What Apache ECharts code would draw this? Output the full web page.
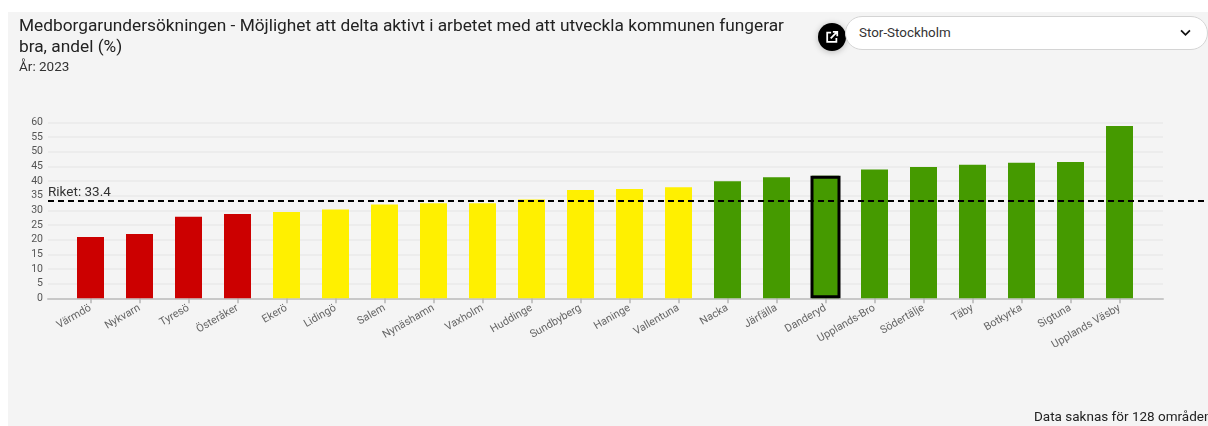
<!DOCTYPE html>
<html>
<head>
<meta charset="utf-8">
<title>Medborgarundersökningen</title>
<script src="https://cdn.jsdelivr.net/npm/echarts@6/dist/echarts.min.js"></script>
<style>
  html, body { margin: 0; padding: 0; background: #fff; overflow: hidden; }
  .panel { position: absolute; left: 8px; top: 12px; width: 1200px; height: 414px; background: #f4f4f4; }
  #chart { position: absolute; left: 0; top: 0; width: 1208px; height: 426px; }
  .share {
    position: absolute; left: 818px; top: 23px; width: 28px; height: 28px; border-radius: 50%;
    background: #000; box-shadow: 0 1px 6px rgba(0, 0, 0, 0.25);
  }
  .share svg { position: absolute; left: 7px; top: 7px; }
  .select {
    position: absolute; left: 845px; top: 16px; width: 363px; height: 34px; box-sizing: border-box;
    background: #fff; border: 1px solid #d4d4d4; border-radius: 17px;
    font: 13.4px/31px Roboto, sans-serif; color: #333; padding-left: 13px;
  }
  .select svg { position: absolute; right: 16px; top: 12px; }
</style>
</head>
<body>
<div class="panel"></div>
<div id="chart"></div>
<div class="share">
  <svg width="14" height="14" viewBox="0 0 16 16" fill="none" stroke="#fff" stroke-width="2">
    <path d="M7 3H2.5v10.5H13V9"/>
    <path d="M6.5 9.5 13.5 2.5M9 2h5v5"/>
  </svg>
</div>
<div class="select">Stor-Stockholm
  <svg width="11" height="8" viewBox="0 0 12 9" fill="none" stroke="#111" stroke-width="2"><path d="M1 1.5 6 6.5 11 1.5"/></svg>
</div>

<script>
const categories = [
  "Värmdö", "Nykvarn", "Tyresö", "Österåker", "Ekerö", "Lidingö", "Salem", "Nynäshamn",
  "Vaxholm", "Huddinge", "Sundbyberg", "Haninge", "Vallentuna", "Nacka", "Järfälla",
  "Danderyd", "Upplands-Bro", "Södertälje", "Täby", "Botkyrka", "Sigtuna", "Upplands Väsby",
];
const values = [
  20.9, 21.9, 27.8, 28.7, 29.4, 30.3, 32.0, 32.4, 32.4, 33.7, 36.9,
  37.3, 37.9, 39.9, 41.3, 41.8, 43.9, 44.8, 45.5, 46.2, 46.5, 58.7,
];
const riket = 33.4;
const selected = "Danderyd";
const lowLimit = 29;
const highLimit = 39;

const font = "Roboto, sans-serif";

const barColor = (v) => {
  if (v < lowLimit) return "#cc0000";
  if (v < highLimit) return "#fff000";
  return "#459a00";
};

const barData = values.map((v) => ({ value: v, itemStyle: { color: barColor(v) } }));
// only the chosen municipality gets a value in the outline series
const outlineData = values.map((v, i) => (categories[i] === selected ? v : null));

const yScale = { type: "value", min: 0, max: 60, interval: 5 };

const myChart = echarts.init(document.getElementById("chart"), null, { renderer: "canvas" });
myChart.setOption({
  animation: false,
  backgroundColor: "transparent",
  title: {
    left: 19,
    top: 16,
    padding: 0,
    text: "Medborgarundersökningen - Möjlighet att delta aktivt i arbetet med att utveckla kommunen fungerar\nbra, andel (%)",
    textStyle: { fontFamily: font, fontSize: 17.3, fontWeight: "normal", color: "#222", lineHeight: 21 },
    subtext: "År: 2023",
    subtextStyle: { fontFamily: font, fontSize: 13.5, color: "#333", lineHeight: 14 },
    itemGap: 3,
  },
  // the gridlines run past the bars on both sides, the dashed line to the page edge
  grid: [
    { left: 48, right: 45, top: 122.3, height: 176 },
    { left: 66, right: 64, top: 122.3, height: 176 },
    { left: 48, right: 0, top: 122.3, height: 176 },
    { left: 66, right: 64, top: 122.3, height: 176 },
  ],
  xAxis: [
    {
      gridIndex: 0, type: "category", data: [""],
      axisLine: { lineStyle: { color: "#c8c8c8", width: 2 } },
      axisTick: { show: false }, axisLabel: { show: false },
    },
    {
      gridIndex: 1, type: "category", data: categories,
      axisLine: { show: false },
      axisTick: { show: true, alignWithLabel: true, length: 5, lineStyle: { color: "#b5b5b5", width: 1.5 } },
      axisLabel: { interval: 0, rotate: 30, margin: 9, fontFamily: font, fontSize: 10.8, color: "#666" },
    },
    { gridIndex: 2, type: "category", data: [""], show: false },
    { gridIndex: 3, type: "category", data: categories, show: false },
  ],
  yAxis: [
    {
      ...yScale, gridIndex: 0,
      axisLine: { show: false }, axisTick: { show: false },
      axisLabel: { margin: 5, padding: [2, 0, 0, 0], fontFamily: font, fontSize: 10.5, color: "#555" },
      splitLine: { lineStyle: { color: "#ececec", width: 2 } },
    },
    { ...yScale, gridIndex: 1, show: false },
    { ...yScale, gridIndex: 2, show: false },
    { ...yScale, gridIndex: 3, show: false },
  ],
  series: [
    {
      type: "bar",
      xAxisIndex: 1,
      yAxisIndex: 1,
      barWidth: 27,
      data: barData,
      z: 2,
    },
    {
      type: "bar",
      xAxisIndex: 3,
      yAxisIndex: 3,
      barWidth: 30,
      data: outlineData,
      itemStyle: { color: "transparent", borderColor: "#000", borderWidth: 3 },
      z: 3,
    },
    {
      type: "line",
      xAxisIndex: 2,
      yAxisIndex: 2,
      data: [],
      z: 5,
      markLine: {
        silent: true,
        symbol: "none",
        lineStyle: { color: "#000", type: [6, 4], width: 2 },
        label: {
          position: "insideStartTop",
          distance: [0, 1],
          formatter: "Riket: " + riket,
          fontFamily: font,
          fontSize: 13.5,
          color: "#333",
        },
        data: [{ yAxis: riket }],
      },
    },
  ],
  graphic: [
    {
      type: "text",
      left: 1034,
      top: 411,
      style: { text: "Data saknas för 128 områden", font: "13.5px " + font, fill: "#222" },
    },
  ],
});

window.addEventListener("resize", () => {
  myChart.resize();
});
</script>
</body>
</html>
